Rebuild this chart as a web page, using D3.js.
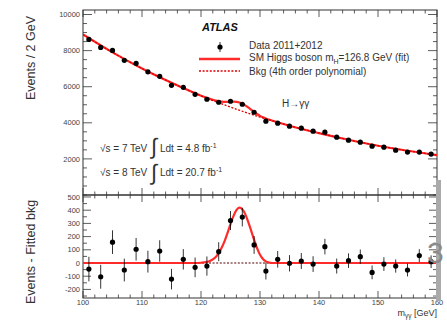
<!DOCTYPE html>
<html><head><meta charset="utf-8">
<script src="https://cdn.jsdelivr.net/npm/d3@7/dist/d3.min.js"></script>
<style>body{margin:0;background:#fff}svg{display:block}text{font-family:"Liberation Sans",Arial,sans-serif}</style>
</head><body><svg id="c" width="447" height="320"></svg>
<script>
// ---- data ----
const massBins = [101,103,105,107,109,111,113,115,117,119,121,123,125,127,129,131,133,135,137,139,141,143,145,147,149,151,153,155,157,159];
const dataEvents = [8619,8177,8011,7459,7293,6823,6575,6077,5967,5580,5304,5138,5193,5028,4586,4088,3978,3812,3702,3536,3481,3204,3039,2928,2707,2652,2486,2376,2376,2265];
const residuals = [-46,-104,158,-53,104,10,91,-122,28,-33,-23,86,322,348,137,-61,28,-2,15,-8,124,-23,18,48,-71,-8,-23,-53,56,10];
const bkgMass = [100,105,110,115,120,125,130,135,140,145,150,155,160];
const bkgValues = [8890,7900,7010,6220,5500,4870,4320,3840,3430,3060,2730,2450,2210];
const sigMass = [100,119,120,120.5,121,121.5,122,122.5,123,123.5,124,124.5,125,125.5,126,126.5,127,127.5,128,128.5,129,129.5,130,130.5,131,131.5,132,160];
const sigValues = [0,0,2,5,9,16,28,46,75,115,165,228,295,355,400,420,408,370,312,245,175,112,62,30,12,4,0,0];
const xTicks = [100,110,120,130,140,150,160];
const topTicks = [2000,4000,6000,8000,10000];
const botTicks = [-200,-100,0,100,200,300,400,500];

const svg = d3.select("#c");
const L = 83, R = 437, T1 = 10, B1 = 195, T2 = 195, B2 = 298;
const x = d3.scaleLinear().domain([100,160]).range([L,R]);
const yTop = d3.scaleLinear().domain([0,10250]).range([B1,T1]);
const yBot = d3.scaleLinear().domain([-265,515]).range([B2,T2]);

const axisCol = "#333", red = "#ff2a2a";

function bkgAt(m){ // linear between knots
  const i = Math.min(bkgMass.length-2, Math.max(0, d3.bisectRight(bkgMass, m)-1));
  const t = (m-bkgMass[i])/(bkgMass[i+1]-bkgMass[i]);
  return bkgValues[i] + t*(bkgValues[i+1]-bkgValues[i]);
}

// ---- frames & ticks ----
function frame(top, bot, yScale, yMajor, yMinorStep, yMinLen, yMajLen){
  const g = svg.append("g");
  const xMinor = d3.range(100, 160.01, 2);
  xMinor.forEach(v=>{
    const maj = v % 10 === 0;
    const len = maj ? 7 : 3.5;
    g.append("line").attr("x1",x(v)).attr("x2",x(v)).attr("y1",bot).attr("y2",bot-len).attr("stroke",axisCol).attr("stroke-width",0.8);
    g.append("line").attr("x1",x(v)).attr("x2",x(v)).attr("y1",top).attr("y2",top+len).attr("stroke",axisCol).attr("stroke-width",0.8);
  });
  const [d0,d1] = yScale.domain();
  const yMinor = d3.range(Math.ceil(d0/yMinorStep)*yMinorStep, d1, yMinorStep);
  yMinor.forEach(v=>{
    const maj = yMajor.includes(v);
    const len = maj ? yMajLen : yMinLen;
    g.append("line").attr("x1",L).attr("x2",L+len).attr("y1",yScale(v)).attr("y2",yScale(v)).attr("stroke",axisCol).attr("stroke-width",0.8);
    g.append("line").attr("x1",R).attr("x2",R-len).attr("y1",yScale(v)).attr("y2",yScale(v)).attr("stroke",axisCol).attr("stroke-width",0.8);
  });
  g.append("rect").attr("x",L).attr("y",top).attr("width",R-L).attr("height",bot-top).attr("fill","none").attr("stroke",axisCol).attr("stroke-width",1);
  yMajor.forEach(v=>{
    g.append("text").attr("x",L-3).attr("y",yScale(v)).attr("dy","0.35em").attr("text-anchor","end")
      .attr("font-size",7.5).attr("fill","#444").text(v);
  });
  return g;
}
frame(T1, B1, yTop, topTicks, 500, 4, 9);
frame(T2, B2, yBot, botTicks, 50, 4, 8);

// x tick labels (bottom panel)
xTicks.forEach(v=>{
  svg.append("text").attr("x",x(v)).attr("y",B2+7).attr("text-anchor","middle").attr("font-size",7.5).attr("fill","#444").text(v);
});

// axis titles
svg.append("text").attr("transform","translate(35,58) rotate(-90)").attr("text-anchor","middle").attr("font-size",12.5).attr("fill","#333").text("Events / 2 GeV");
svg.append("text").attr("transform","translate(35,252) rotate(-90)").attr("text-anchor","middle").attr("font-size",12.5).attr("fill","#333").text("Events - Fitted bkg");
const xt = svg.append("text").attr("x",R).attr("y",316).attr("text-anchor","end").attr("font-size",9).attr("fill","#333");
xt.append("tspan").text("m");
xt.append("tspan").attr("font-size",6.5).attr("dy",2).text("γγ");
xt.append("tspan").attr("dy",-2).text(" [GeV]");

// ---- top panel curves ----
svg.append("clipPath").attr("id","cp1").append("rect").attr("x",L).attr("y",T1).attr("width",R-L).attr("height",B1-T1);
const bLine = d3.line().x(d=>x(d[0])).y(d=>yTop(d[1])).curve(d3.curveMonotoneX);
const allM = Array.from(new Set(bkgMass.concat(sigMass))).sort((a,b)=>a-b);
const sigAt = m => { const i = sigMass.indexOf(m); if(i>=0) return sigValues[i];
  const j = Math.max(0, d3.bisectRight(sigMass, m)-1); const t=(m-sigMass[j])/(sigMass[j+1]-sigMass[j]); return sigValues[j]+t*(sigValues[j+1]-sigValues[j]); };
svg.append("path").attr("d", bLine(allM.map(m=>[m, bkgAt(m)+sigAt(m)])))
  .attr("fill","none").attr("stroke",red).attr("stroke-width",2.2).attr("clip-path","url(#cp1)");
svg.append("path").attr("d", bLine(bkgMass.map((m,i)=>[m,bkgValues[i]])))
  .attr("fill","none").attr("stroke","#e00000").attr("stroke-width",1.3).attr("stroke-dasharray","2,1.6").attr("clip-path","url(#cp1)");

// top data points
massBins.forEach((m,i)=>{
  const v = dataEvents[i], e = Math.sqrt(v);
  svg.append("line").attr("x1",x(m)).attr("x2",x(m)).attr("y1",yTop(v-e)).attr("y2",yTop(v+e)).attr("stroke","#000").attr("stroke-width",0.8);
  svg.append("circle").attr("cx",x(m)).attr("cy",yTop(v)).attr("r",2.6).attr("fill","#000");
});

// ---- bottom panel ----
const rLine = d3.line().x(d=>x(d[0])).y(d=>yBot(d[1])).curve(d3.curveMonotoneX);
svg.append("line").attr("x1",x(100)).attr("x2",x(160)).attr("y1",yBot(0)).attr("y2",yBot(0))
  .attr("stroke","#500").attr("stroke-width",1.2).attr("stroke-dasharray","2,1.6");
svg.append("path").attr("d", rLine(sigMass.map((m,i)=>[m,sigValues[i]])))
  .attr("fill","none").attr("stroke",red).attr("stroke-width",2.2);
massBins.forEach((m,i)=>{
  const v = residuals[i], e = Math.sqrt(dataEvents[i]);
  svg.append("line").attr("x1",x(m)).attr("x2",x(m)).attr("y1",yBot(v-e)).attr("y2",yBot(v+e)).attr("stroke","#000").attr("stroke-width",0.8);
  svg.append("circle").attr("cx",x(m)).attr("cy",yBot(v)).attr("r",2.6).attr("fill","#000");
});

// ---- legend & labels ----
svg.append("text").attr("x",202).attr("y",31).attr("font-size",11).attr("font-weight","bold").attr("font-style","italic").attr("fill","#111").text("ATLAS");
svg.append("line").attr("x1",220).attr("x2",220).attr("y1",42).attr("y2",52).attr("stroke","#000").attr("stroke-width",0.8);
svg.append("circle").attr("cx",220).attr("cy",47).attr("r",2.6).attr("fill","#000");
svg.append("line").attr("x1",199).attr("x2",240).attr("y1",59).attr("y2",59).attr("stroke",red).attr("stroke-width",2.4);
svg.append("line").attr("x1",199).attr("x2",240).attr("y1",71).attr("y2",71).attr("stroke","#e00000").attr("stroke-width",1.3).attr("stroke-dasharray","2,1.6");
svg.append("text").attr("x",249).attr("y",49).attr("font-size",10).attr("fill","#333").text("Data 2011+2012");
const lt = svg.append("text").attr("x",249).attr("y",61).attr("font-size",10).attr("fill","#333");
lt.append("tspan").text("SM Higgs boson m");
lt.append("tspan").attr("font-size",7).attr("dy",2.5).text("H");
lt.append("tspan").attr("dy",-2.5).text("=126.8 GeV (fit)");
svg.append("text").attr("x",249).attr("y",75).attr("font-size",10).attr("fill","#333").text("Bkg (4th order polynomial)");
svg.append("text").attr("x",282).attr("y",107).attr("font-size",10).attr("fill","#333").text("H→γγ");

svg.append("text").attr("x",100).attr("y",152).attr("font-size",10).attr("fill","#333").text("√s = 7 TeV");
svg.append("text").attr("x",100).attr("y",176).attr("font-size",10).attr("fill","#333").text("√s = 8 TeV");
svg.append("text").attr("x",151).attr("y",154).attr("font-size",22).attr("fill","#333").attr("font-family","DejaVu Sans").text("∫");
svg.append("text").attr("x",151).attr("y",180).attr("font-size",22).attr("fill","#333").attr("font-family","DejaVu Sans").text("∫");
const l1 = svg.append("text").attr("x",160).attr("y",152).attr("font-size",10).attr("fill","#333");
l1.append("tspan").text("Ldt = 4.8 fb"); l1.append("tspan").attr("font-size",7).attr("dy",-4).text("-1");
const l2 = svg.append("text").attr("x",160).attr("y",176).attr("font-size",10).attr("fill","#333");
l2.append("tspan").text("Ldt = 20.7 fb"); l2.append("tspan").attr("font-size",7).attr("dy",-4).text("-1");

// right-edge artifacts
svg.append("rect").attr("x",436).attr("y",180).attr("width",5).attr("height",121).attr("fill","#aaa");
svg.append("text").attr("x",427).attr("y",263).attr("font-size",30).attr("fill","#8a8a8a").text("3");
</script></body></html>
